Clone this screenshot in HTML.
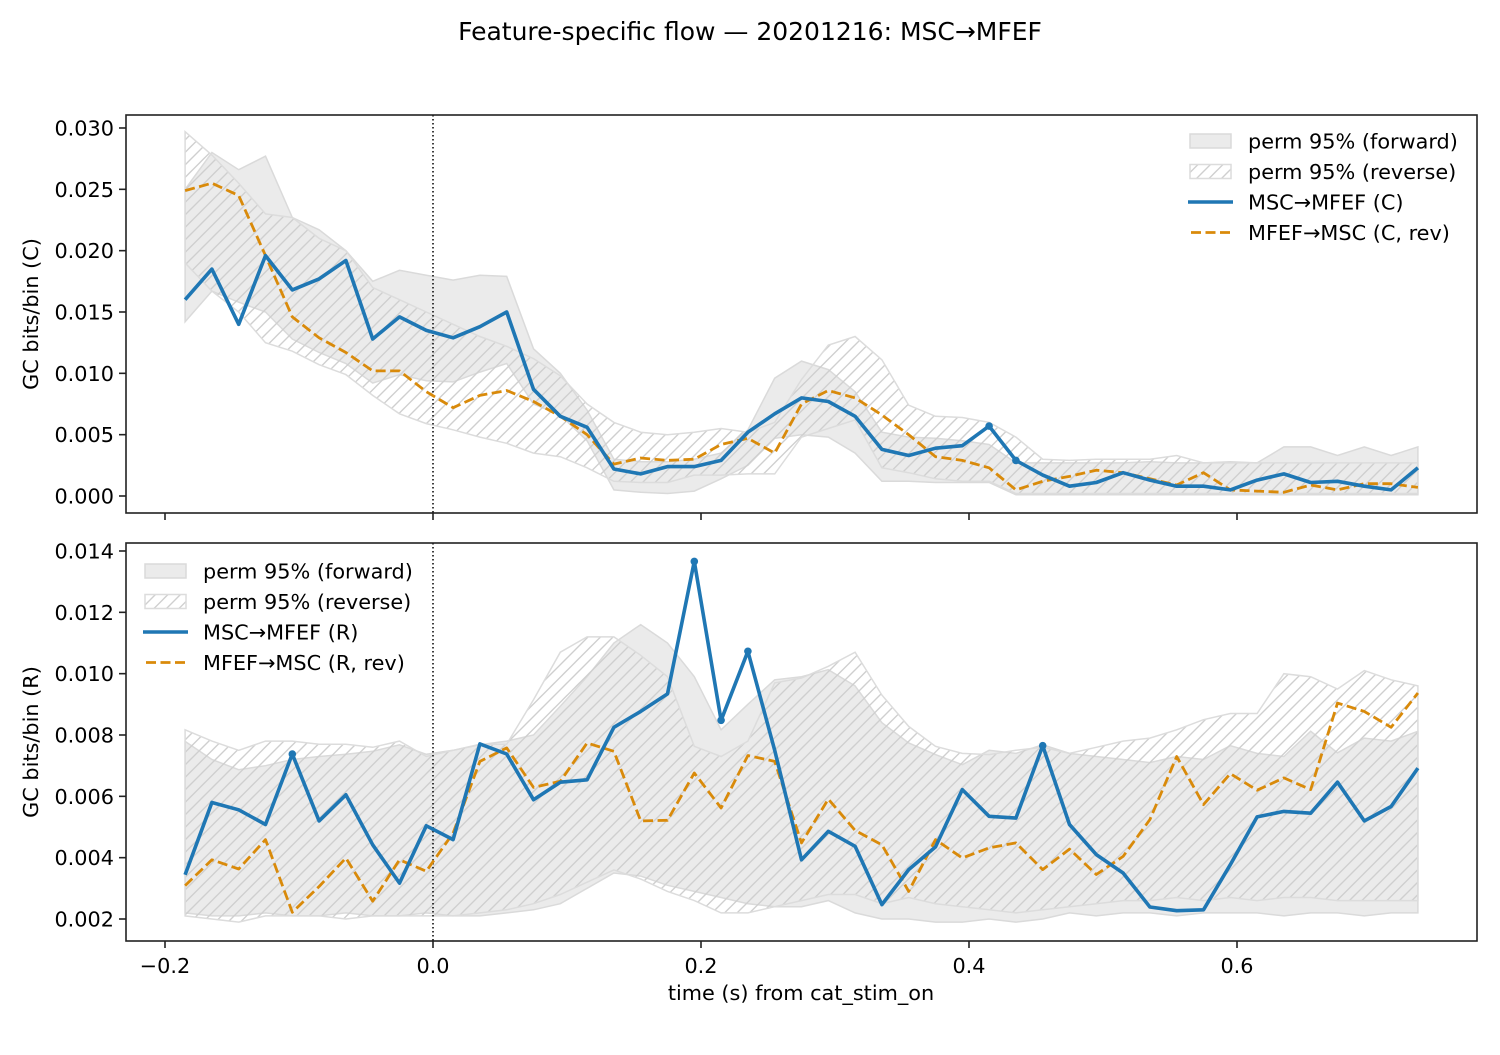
<!DOCTYPE html>
<html><head><meta charset="utf-8"><style>
html,body{margin:0;padding:0;background:#fff;}
svg text{font-family:"DejaVu Sans","Liberation Sans",sans-serif;fill:#000;}
</style></head><body>
<svg id="fig" width="1500" height="1050" viewBox="0 0 1500 1050" xmlns="http://www.w3.org/2000/svg">
<defs>
<pattern id="hatch" patternUnits="userSpaceOnUse" width="12.5" height="12.5">
<path d="M-1,1 L1,-1 M0,12.5 L12.5,0 M11.5,13.5 L13.5,11.5" stroke="#cfcfcf" stroke-width="1.4"/>
</pattern>
<clipPath id="clipTop"><rect x="126" y="115" width="1351" height="398"/></clipPath>
<clipPath id="clipBot"><rect x="126" y="543" width="1351" height="398"/></clipPath>
</defs>
<text x="750" y="40" font-size="25" text-anchor="middle">Feature-specific flow — 20201216: MSC→MFEF</text>
</svg>
<script>
const times = [-0.185,-0.165,-0.145,-0.125,-0.105,-0.085,-0.065,-0.045,-0.025,-0.005,0.015,0.035,0.055,0.075,0.095,0.115,0.135,0.155,0.175,0.195,0.215,0.235,0.255,0.275,0.295,0.315,0.335,0.355,0.375,0.395,0.415,0.435,0.455,0.475,0.495,0.515,0.535,0.555,0.575,0.595,0.615,0.635,0.655,0.675,0.695,0.715,0.735];
const xTicks = [-0.2,0.0,0.2,0.4,0.6];
const xTickLabels = ["\u22120.2","0.0","0.2","0.4","0.6"];
const topYTicks = [0.000,0.005,0.010,0.015,0.020,0.025,0.030];
const topYTickLabels = ["0.000","0.005","0.010","0.015","0.020","0.025","0.030"];
const botYTicks = [0.002,0.004,0.006,0.008,0.010,0.012,0.014];
const botYTickLabels = ["0.002","0.004","0.006","0.008","0.010","0.012","0.014"];

const cBlue = [.0160,.0185,.0140,.0196,.0168,.0177,.0192,.0128,.0146,.0135,.0129,.0138,.0150,.0087,.0065,.0056,.0022,.0018,.0024,.0024,.0029,.0052,.0067,.0080,.0077,.0065,.0038,.0033,.0039,.0041,.0057,.0029,.0017,.0008,.0011,.0019,.0013,.0008,.0008,.0005,.0013,.0018,.0011,.0012,.0008,.0005,.0023];
const cOrange = [.0249,.0255,.0245,.0196,.0146,.0129,.0117,.0102,.0102,.0085,.0072,.0082,.0086,.0077,.0065,.0050,.0026,.0031,.0029,.0030,.0042,.0047,.0035,.0075,.0086,.0080,.0066,.0050,.0032,.0029,.0023,.0005,.0012,.0016,.0021,.0019,.0014,.0009,.0019,.0005,.0004,.0003,.0009,.0005,.0010,.0010,.0007];
const cFwdHi = [.0250,.0280,.0266,.0277,.0227,.0217,.0200,.0175,.0184,.0180,.0176,.0180,.0179,.0120,.0100,.0070,.0030,.0028,.0028,.0030,.0035,.0054,.0096,.0110,.0103,.0085,.0052,.0048,.0047,.0045,.0042,.0027,.0027,.0027,.0027,.0027,.0028,.0027,.0027,.0028,.0027,.0040,.0040,.0033,.0040,.0033,.0040];
const cFwdLo = [.0142,.0167,.0158,.0150,.0128,.0117,.0108,.0092,.0099,.0094,.0093,.0101,.0108,.0075,.0066,.0045,.0005,.0003,.0002,.0004,.0014,.0025,.0047,.0050,.0048,.0035,.0012,.0012,.0011,.0011,.0011,.0001,.0001,.0001,.0001,.0001,.0001,.0001,.0001,.0001,.0001,.0001,.0001,.0001,.0001,.0001,.0001];
const cRevHi = [.0297,.0278,.0255,.0230,.0227,.0210,.0200,.0170,.0160,.0150,.0140,.0130,.0122,.0112,.0098,.0075,.0060,.0052,.0050,.0052,.0055,.0052,.0060,.0095,.0123,.0130,.0111,.0074,.0065,.0064,.0060,.0048,.0030,.0029,.0030,.0030,.0030,.0033,.0027,.0027,.0027,.0027,.0027,.0027,.0027,.0027,.0027];
const cRevLo = [.0190,.0167,.0150,.0125,.0118,.0107,.0099,.0082,.0067,.0059,.0054,.0048,.0043,.0035,.0032,.0023,.0012,.0011,.0011,.0017,.0017,.0018,.0018,.0048,.0055,.0062,.0023,.0019,.0014,.0012,.0012,.0002,.0002,.0002,.0002,.0002,.0002,.0002,.0002,.0002,.0002,.0002,.0002,.0002,.0002,.0002,.0002];
const cMarkers = [30,31];

const rBlue = [.00344,.00580,.00556,.00508,.00738,.00520,.00605,.00442,.00317,.00504,.00459,.00771,.00738,.00589,.00646,.00654,.00825,.00877,.00934,.01366,.00848,.01073,.0075,.00393,.00486,.00437,.00247,.00361,.00435,.00622,.00535,.00529,.00765,.00508,.0041,.0035,.00239,.00227,.0023,.00377,.00533,.00551,.00545,.00646,.0052,.00567,.00692];
const rOrange = [.00309,.00393,.00363,.00459,.00222,.00306,.00399,.00258,.00393,.00356,.0048,.00714,.00758,.00629,.00649,.00774,.00747,.0052,.00522,.00676,.00562,.00733,.00714,.00448,.00591,.00489,.00442,.0029,.00459,.00399,.00432,.00448,.00361,.00428,.00345,.00404,.00524,.0073,.00573,.00674,.0062,.0066,.00622,.00904,.00877,.00825,.00937];
const rFwdHi = [.00779,.0072,.00687,.0070,.0072,.0073,.00737,.00747,.00768,.00737,.0075,.00768,.0078,.0080,.00894,.0099,.0110,.0116,.0110,.0099,.00817,.0090,.0098,.0099,.01013,.0096,.0084,.00774,.00736,.00703,.0075,.0074,.00768,.0074,.0073,.0072,.0071,.0073,.0072,.00765,.0074,.0073,.00812,.00742,.0079,.0078,.00812];
const rFwdLo = [.0022,.0021,.0021,.0022,.0021,.0021,.0022,.0021,.0021,.0022,.0021,.0021,.0022,.0023,.0025,.0030,.0035,.0034,.0031,.0029,.0027,.0025,.0024,.0024,.0026,.0022,.0020,.0020,.0019,.0019,.0020,.0019,.0020,.0022,.0021,.0022,.0022,.0021,.0022,.0022,.0022,.0021,.0022,.0022,.0021,.0022,.0022];
const rRevHi = [.00817,.0078,.0075,.0078,.0078,.0077,.0077,.0076,.0078,.0073,.0075,.0077,.0077,.00915,.0107,.0112,.0112,.0106,.0099,.00763,.0073,.0078,.0097,.00986,.01024,.0107,.0093,.00828,.00763,.0074,.00736,.0075,.0076,.0074,.0076,.0078,.0079,.00817,.0085,.0087,.0087,.0100,.0099,.0095,.0101,.0098,.0096];
const rRevLo = [.0021,.0020,.0019,.0021,.0021,.0021,.0020,.0021,.0021,.0021,.0021,.0022,.0023,.0025,.0028,.0032,.0036,.0033,.0029,.0026,.0022,.0022,.0024,.0026,.0028,.0028,.0025,.0027,.0025,.0024,.0023,.0022,.0023,.0024,.0025,.0026,.0026,.0027,.0026,.0027,.0026,.0027,.0027,.0026,.0026,.0026,.0026];
const rMarkers = [4,19,20,21,32];

const NS = "http://www.w3.org/2000/svg";
const svg = document.getElementById('fig');
function mk(tag, attrs, parent){ const e=document.createElementNS(NS,tag); for(const k in attrs) e.setAttribute(k,attrs[k]); (parent||svg).appendChild(e); return e; }
const AX_L=126, AX_R=1477;
const FS=20.8;
function xScale(t){ return 433 + t*1340; }

function panel(opts){
  const top=opts.top, bot=opts.top+398;
  const yS = v => opts.y0px + (v - opts.y0)*opts.pxPer;
  const g = mk('g',{});
  
  
  const plot = mk('g',{'clip-path':'url(#'+opts.clip+')'}, g);
  function band(hi, lo){ let d=''; for(let i=0;i<times.length;i++) d+=(i?'L':'M')+xScale(times[i]).toFixed(1)+','+yS(hi[i]).toFixed(1); for(let i=times.length-1;i>=0;i--) d+='L'+xScale(times[i]).toFixed(1)+','+yS(lo[i]).toFixed(1); return d+'Z'; }
  const fb = mk('path',{d:band(opts.fwdHi,opts.fwdLo), fill:'#ebebeb', stroke:'#dadada','stroke-width':1.5}, plot);
  
  
  const rb = mk('path',{d:band(opts.revHi,opts.revLo), fill:'url(#hatch)', stroke:'#dcdcdc','stroke-width':1.5}, plot);
  
  
  const vl = mk('line',{x1:433,x2:433,y1:top,y2:bot,stroke:'#000','stroke-width':1.5,'stroke-dasharray':'1.5,2.5'}, plot);
  
  
  function line(vals, color, w, dash, nm){ let d=''; vals.forEach((v,i)=>{ d+=(i?'L':'M')+xScale(times[i]).toFixed(1)+','+yS(v).toFixed(1); }); const p=mk('path',{d:d,fill:'none',stroke:color,'stroke-width':w,'stroke-linejoin':'round'}, plot); if(dash) p.setAttribute('stroke-dasharray',dash);
    
     }
  line(opts.orange,'#d98a0a',2.8,'10,4.5','reverse-flow-line');
  line(opts.blue,'#1f77b4',3.6,null,'forward-flow-line');
  opts.markers.forEach(i=>{ const c=mk('circle',{cx:xScale(times[i]),cy:yS(opts.blue[i]),r:3.8,fill:'#1f77b4'}, plot);
    
     });
  const fr = mk('rect',{x:AX_L,y:top,width:AX_R-AX_L,height:398,fill:'none',stroke:'#222','stroke-width':1.6}, g);
  
  
  opts.yTicks.forEach((v,i)=>{ const y=yS(v); mk('line',{x1:AX_L-7,x2:AX_L,y1:y,y2:y,stroke:'#222','stroke-width':1.6}, g);
    const t=mk('text',{x:AX_L-12,y:y+7.5,'font-size':FS,'text-anchor':'end'}, g); t.textContent=opts.yLabels[i];
    
     });
  xTicks.forEach((v,i)=>{ const x=xScale(v); mk('line',{x1:x,x2:x,y1:bot,y2:bot+7,stroke:'#222','stroke-width':1.6}, g);
    if(opts.xLabels){ const t=mk('text',{x:x,y:bot+32,'font-size':FS,'text-anchor':'middle'}, g); t.textContent=xTickLabels[i];
      
       } });
  const yl = mk('text',{x:0,y:0,'font-size':FS,'text-anchor':'middle',transform:'translate(38,'+(top+199)+') rotate(-90)'}, g);
  yl.textContent = opts.yTitle;
  
  
  const L = mk('g',{}, g);
  
  
  const lx=opts.legX, ly=opts.legY;
  const rows=[0,30.5,61,91.5];
  mk('rect',{x:lx+2,y:ly+rows[0]-7,width:41,height:14,fill:'#ebebeb',stroke:'#dadada','stroke-width':1.5}, L);
  mk('rect',{x:lx+2,y:ly+rows[1]-7,width:41,height:14,fill:'url(#hatch)',stroke:'#dcdcdc','stroke-width':1.5}, L);
  mk('line',{x1:lx,x2:lx+45,y1:ly+rows[2],y2:ly+rows[2],stroke:'#1f77b4','stroke-width':3.6}, L);
  mk('line',{x1:lx+3,x2:lx+45,y1:ly+rows[3],y2:ly+rows[3],stroke:'#d98a0a','stroke-width':2.8,'stroke-dasharray':'10,4.5'}, L);
  opts.legText.forEach((s,i)=>{ const t=mk('text',{x:lx+60,y:ly+rows[i]+7.5,'font-size':FS}, L); t.textContent=s;
    
     });
}

panel({name:'panel-category', top:115, clip:'clipTop', y0:0, y0px:496, pxPer:-12267,
  blue:cBlue, orange:cOrange, fwdHi:cFwdHi, fwdLo:cFwdLo, revHi:cRevHi, revLo:cRevLo, markers:cMarkers,
  yTicks:topYTicks, yLabels:topYTickLabels, xLabels:false, yTitle:'GC bits/bin (C)',
  legX:1188, legY:141, legText:['perm 95% (forward)','perm 95% (reverse)','MSC\u2192MFEF (C)','MFEF\u2192MSC (C, rev)']});
panel({name:'panel-response', top:543, clip:'clipBot', y0:0.002, y0px:919, pxPer:-30667,
  blue:rBlue, orange:rOrange, fwdHi:rFwdHi, fwdLo:rFwdLo, revHi:rRevHi, revLo:rRevLo, markers:rMarkers,
  yTicks:botYTicks, yLabels:botYTickLabels, xLabels:true, yTitle:'GC bits/bin (R)',
  legX:143, legY:571, legText:['perm 95% (forward)','perm 95% (reverse)','MSC\u2192MFEF (R)','MFEF\u2192MSC (R, rev)']});

const xt = mk('text',{x:801,y:1000,'font-size':FS,'text-anchor':'middle'});
xt.textContent = 'time (s) from cat_stim_on';


</script>
</body></html>
